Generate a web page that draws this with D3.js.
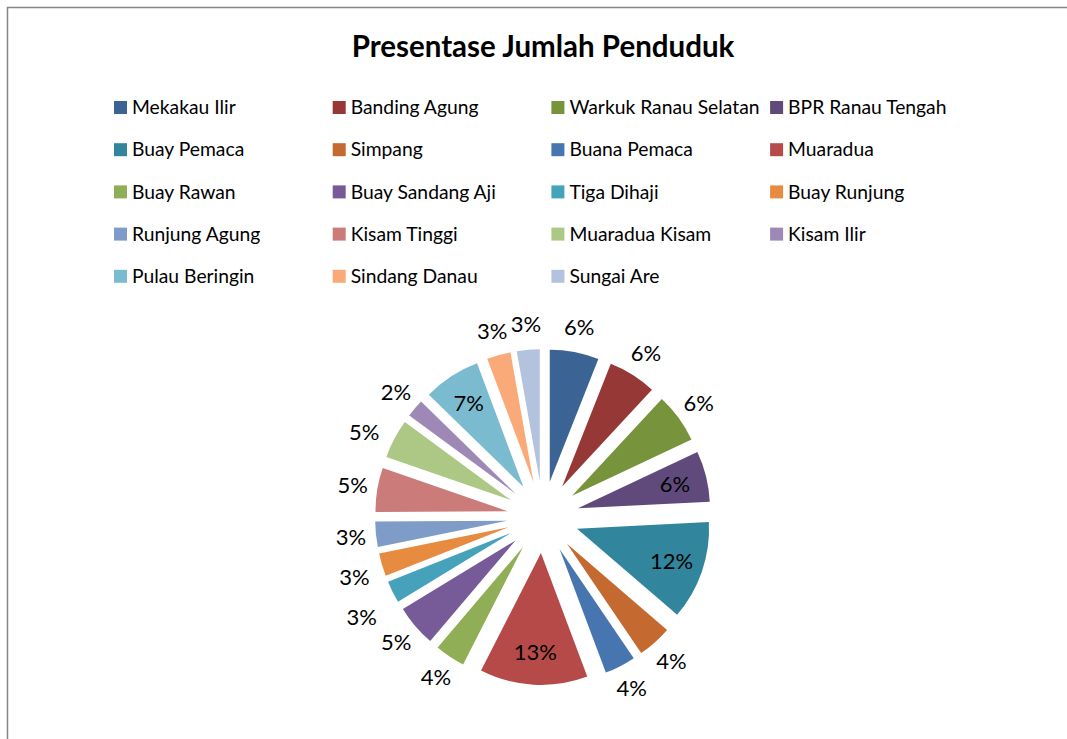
<!DOCTYPE html>
<html>
<head>
<meta charset="utf-8">
<script src="https://cdn.jsdelivr.net/npm/d3@7"></script>
<style>
  html, body { margin: 0; padding: 0; background: #fff; }
  svg { display: block; font-family: Lato, "Open Sans", sans-serif; }
</style>
</head>
<body>
<div id="chart"></div>
<script>
// Kecamatan names, in slice order (clockwise from 12 o'clock)
const kecamatan = [
    "Mekakau Ilir", "Banding Agung", "Warkuk Ranau Selatan", "BPR Ranau Tengah",
    "Buay Pemaca", "Simpang", "Buana Pemaca", "Muaradua",
    "Buay Rawan", "Buay Sandang Aji", "Tiga Dihaji", "Buay Runjung",
    "Runjung Agung", "Kisam Tinggi", "Muaradua Kisam", "Kisam Ilir",
    "Pulau Beringin", "Sindang Danau", "Sungai Are"
];

// share of population (%)
const persen = [
    6.0, 5.9, 6.1, 6.2,
    12.1, 4.2, 3.8, 13.2,
    3.7, 5.1, 2.7, 2.8,
    3.1, 5.4, 4.8, 2.2,
    7.0, 2.9, 2.8
];

// Excel 2007 style slice colours
const warna = [
    "#3b6494", "#953836", "#77933c", "#604a7b",
    "#31859c", "#c4692f", "#4775b0", "#b54a48",
    "#8fae55", "#775b98", "#46a2ba", "#e68b40",
    "#7f9bc8", "#ca7b7a", "#adc785", "#9e89b6",
    "#7bbbd0", "#f9aa78", "#b3c3dd"
];

// labels that Excel put inside the slice
const labelDalam = ["BPR Ranau Tengah", "Buay Pemaca", "Muaradua", "Pulau Beringin"];

const width = 1067;
const height = 739;

const svg = d3.select('#chart').append('svg')
    .attr('width', width)
    .attr('height', height);

// chart area border (runs off the right and bottom of the window)
svg.append('rect')
    .attr('x', 7.5).attr('y', 7.5)
    .attr('width', width + 20).attr('height', height + 20)
    .attr('fill', '#fff')
    .attr('stroke', '#868686')
    .attr('stroke-width', 1.5);

svg.append('text')
    .attr('x', 543)
    .attr('y', 57)
    .attr('text-anchor', 'middle')
    .style('font-size', '29.5px')
    .style('font-weight', 'bold')
    .text('Presentase Jumlah Penduduk');

// legend: 4 columns
const data = kecamatan.map((name, i) => ({ name, value: persen[i], color: warna[i] }));

const legend = svg.append('g');
const item = legend.selectAll('g')
    .data(data)
    .enter().append('g')
    .attr('transform', (d, i) => `translate(${114 + (i % 4) * 218.7}, ${107.5 + Math.floor(i / 4) * 42.2})`);

item.append('rect')
    .attr('x', 0).attr('y', -6.5)
    .attr('width', 13).attr('height', 13)
    .attr('fill', d => d.color);

item.append('text')
    .attr('x', 18)
    .attr('dy', '0.35em')
    .style('font-size', '19.3px')
    .style('fill', '#000')
    .text(d => d.name);

// exploded pie
const cx = 543, cy = 517;
const radius = 132;
const explode = 36;

const total = d3.sum(persen);
const fmt = d3.format('.0%');

const pie = d3.pie().sort(null).value(d => d.value);
const arc = d3.arc().innerRadius(0).outerRadius(radius);
const arcs = pie(data);

const pieG = svg.append('g').attr('transform', `translate(${cx}, ${cy})`);

pieG.selectAll('path')
    .data(arcs)
    .enter().append('path')
    .attr('d', arc)
    .attr('fill', d => d.data.color)
    .attr('transform', d => {
        const mid = (d.startAngle + d.endAngle) / 2;
        return `translate(${explode * Math.sin(mid)}, ${-explode * Math.cos(mid)})`;
    });

// label positions
const labelSize = 22;
const gap = 40; // vertical spacing Excel keeps between side labels
arcs.forEach(d => {
    d.mid = (d.startAngle + d.endAngle) / 2;
    d.inside = labelDalam.includes(d.data.name);
    const r = d.inside ? 136 : 193;
    d.r = r;
    d.x = r * Math.sin(d.mid);
    d.y = -r * Math.cos(d.mid);
    d.label = fmt(d.data.value / total);
    d.w = d.label.length * labelSize * 0.65;
});

// side labels that crowd each other get pushed down (and outward a bit)
const placed = [];
arcs.slice().reverse().forEach(d => {
    if (!d.inside && Math.abs(d.x) > Math.abs(d.y)) {
        placed.forEach(p => {
            if (Math.abs(p.x - d.x) < (p.w + d.w) / 2 && Math.abs(p.y - d.y) < gap) {
                const shift = p.y + gap - d.y;
                const r = d.r + shift;
                d.y = p.y + gap;
                d.x = Math.sign(d.x) * Math.sqrt(Math.max(r * r - d.y * d.y, 0));
                d.r = r;
            }
        });
        placed.push(d);
    }
});

pieG.selectAll('text')
    .data(arcs)
    .enter().append('text')
    .attr('x', d => d.x)
    .attr('y', d => d.y)
    .attr('text-anchor', 'middle')
    .attr('dy', '0.35em')
    .style('font-size', labelSize + 'px')
    .style('fill', '#000')
    .text(d => d.label);
</script>
</body>
</html>
